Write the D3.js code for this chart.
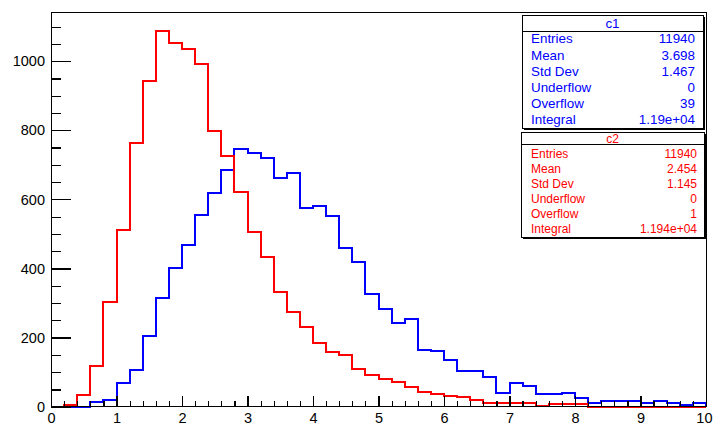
<!DOCTYPE html>
<html>
<head>
<meta charset="utf-8">
<script src="https://cdn.jsdelivr.net/npm/d3@7"></script>
<style>
  body { margin: 0; background: #fff; }
  svg { display: block; }
  text { font-family: "Liberation Sans", Arial, Helvetica, sans-serif; }
</style>
</head>
<body>
<svg id="chart" width="713" height="425"></svg>
<script>
// Histogram binning: 50 bins of width 0.2 over [0, 10]
const xMin = 0, xMax = 10, nBins = 50;

// Bin contents of the two histograms
const c1Counts = [
  0, 0, 0, 14, 18, 68, 106, 205, 316, 401,
  467, 556, 619, 685, 746, 735, 721, 663, 677, 574,
  582, 551, 459, 418, 326, 282, 241, 254, 165, 162,
  135, 104, 104, 86, 41, 68, 60, 37, 37, 41,
  24, 10, 17, 17, 17, 10, 17, 10, 6, 12
];
const c2Counts = [
  0, 6, 33, 117, 303, 512, 764, 944, 1088, 1054,
  1036, 991, 799, 725, 622, 507, 434, 333, 275, 232,
  185, 157, 149, 108, 91, 79, 72, 58, 42, 37,
  31, 27, 19, 12, 12, 12, 12, 2, 8, 8,
  8, 0, 0, 0, 0, 0, 0, 0, 0, 0
];

// Axis ticks
const xMajorTicks = [0, 1, 2, 3, 4, 5, 6, 7, 8, 9, 10];
const yMajorTicks = [0, 200, 400, 600, 800, 1000];
const yMinorStep = 50;
const xMinorStep = 0.2;

// Statistics boxes
const statLabels = ["Entries", "Mean", "Std Dev", "Underflow", "Overflow", "Integral"];
const c1Stats = ["11940", "3.698", "1.467", "0", "39", "1.19e+04"];
const c2Stats = ["11940", "2.454", "1.145", "0", "1", "1.194e+04"];

const c1Color = "#0000ff";
const c2Color = "#ff0000";

const W = 713, H = 425;
const margin = { left: 51, right: 7, top: 12, bottom: 18 };
const svg = d3.select("#chart");

const yTop = 1.05 * Math.max(d3.max(c1Counts), d3.max(c2Counts));
const x = d3.scaleLinear().domain([xMin, xMax]).range([margin.left, W - margin.right]);
const y = d3.scaleLinear().domain([0, yTop]).range([H - margin.bottom - 0.3, margin.top]);
const binW = (xMax - xMin) / nBins;

// Staircase outline of a histogram
function stepPoints(counts) {
  const pts = [[xMin, 0]];
  counts.forEach((v, i) => {
    const lo = xMin + i * binW, hi = lo + binW;
    pts.push([lo, v], [hi, v]);
  });
  pts.push([xMax, 0]);
  return pts;
}
const line = d3.line().x(d => x(d[0])).y(d => y(d[1]));

const plot = svg.append("g");
[[c1Counts, c1Color], [c2Counts, c2Color]].forEach(([counts, color]) => {
  plot.append("path")
    .attr("d", line(stepPoints(counts)))
    .attr("fill", "none")
    .attr("stroke", color)
    .attr("stroke-width", 2)
    .attr("stroke-linejoin", "miter")
    .attr("shape-rendering", "crispEdges");
});

// Frame
svg.append("rect")
  .attr("x", margin.left).attr("y", margin.top)
  .attr("width", W - margin.left - margin.right)
  .attr("height", y(0) - margin.top)
  .attr("fill", "none").attr("stroke", "#000").attr("stroke-width", 1)
  .attr("shape-rendering", "crispEdges");

const labelFont = "'Liberation Sans', Arial, Helvetica, sans-serif";

// Y axis: major + minor ticks pointing inwards
const yMinor = d3.range(0, yTop, yMinorStep);
const yAxisMinor = d3.axisLeft(y).tickValues(yMinor).tickSizeInner(-10).tickSizeOuter(0).tickFormat("");
const yAxis = d3.axisLeft(y).tickValues(yMajorTicks).tickSizeInner(-20).tickSizeOuter(0).tickPadding(6).tickFormat(d3.format("d"));
[yAxisMinor, yAxis].forEach(ax => {
  const g = svg.append("g").attr("transform", `translate(${margin.left},0)`).call(ax);
  g.select(".domain").remove();
  g.selectAll("line").attr("stroke", "#000").attr("stroke-width", 1.2).attr("shape-rendering", "crispEdges");
  g.selectAll("text").attr("font-size", 14.5).attr("fill", "#000").attr("font-family", labelFont);
});

// X axis
const xMinor = d3.range(xMin, xMax + 1e-9, xMinorStep);
const xAxisMinor = d3.axisBottom(x).tickValues(xMinor).tickSizeInner(-5.5).tickSizeOuter(0).tickFormat("");
const xAxis = d3.axisBottom(x).tickValues(xMajorTicks).tickSizeInner(-11).tickSizeOuter(0).tickPadding(6).tickFormat(d3.format("d"));
[xAxisMinor, xAxis].forEach(ax => {
  const g = svg.append("g").attr("transform", `translate(0,${y(0)})`).call(ax);
  g.select(".domain").remove();
  g.selectAll("line").attr("stroke", "#000").attr("stroke-width", 1.2).attr("shape-rendering", "crispEdges");
  g.selectAll("text").attr("font-size", 14.5).attr("fill", "#000").attr("font-family", labelFont);
  // keep the last label inside the canvas
  g.selectAll(".tick").filter(d => d === xMax).select("text")
    .attr("text-anchor", "end").attr("x", W - 1 - x(xMax));
});

// Statistics boxes
function statBox(opts) {
  const g = svg.append("g");
  g.append("rect")
    .attr("x", opts.x + 2).attr("y", opts.y + 2)
    .attr("width", opts.w).attr("height", opts.h)
    .attr("fill", "#000");
  g.append("rect")
    .attr("x", opts.x).attr("y", opts.y)
    .attr("width", opts.w).attr("height", opts.h)
    .attr("fill", "#fff").attr("stroke", "#000").attr("stroke-width", 1)
    .attr("shape-rendering", "crispEdges");
  g.append("line")
    .attr("x1", opts.x).attr("x2", opts.x + opts.w)
    .attr("y1", opts.headerLine).attr("y2", opts.headerLine)
    .attr("stroke", "#000").attr("stroke-width", 1)
    .attr("shape-rendering", "crispEdges");
  g.append("text")
    .attr("x", opts.x + opts.w / 2).attr("y", opts.titleBase)
    .attr("text-anchor", "middle").attr("font-size", opts.fs)
    .attr("fill", opts.color).text(opts.title);
  statLabels.forEach((lab, i) => {
    const by = opts.firstBase + i * opts.rowStep;
    g.append("text").attr("x", opts.textLeft).attr("y", by)
      .attr("font-size", opts.fs).attr("fill", opts.color).text(lab);
    g.append("text").attr("x", opts.textRight).attr("y", by)
      .attr("text-anchor", "end")
      .attr("font-size", opts.fs).attr("fill", opts.color).text(opts.values[i]);
  });
}

statBox({
  x: 522, y: 15, w: 181, h: 113, headerLine: 31,
  title: "c1", titleBase: 28.3, firstBase: 43.3, rowStep: 16.2,
  textLeft: 531, textRight: 695, fs: 13.4, color: c1Color, values: c1Stats
});
statBox({
  x: 521, y: 132, w: 183, h: 105, headerLine: 144,
  title: "c2", titleBase: 142.6, firstBase: 158.3, rowStep: 15,
  textLeft: 531, textRight: 697, fs: 12, color: c2Color, values: c2Stats
});
</script>
</body>
</html>
